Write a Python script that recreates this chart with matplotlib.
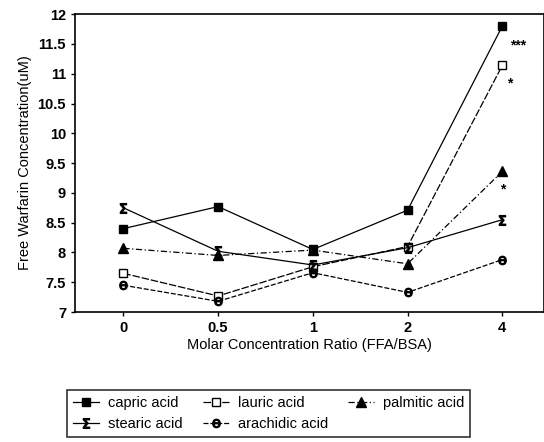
import matplotlib
matplotlib.use("Agg")
import matplotlib.pyplot as plt

plt.rcParams['font.family'] = ['Liberation Sans', 'DejaVu Sans']

categories = ["0", "0.5", "1", "2", "4"]
capric = [8.40, 8.77, 8.05, 8.71, 11.80]
lauric = [7.65, 7.27, 7.76, 8.10, 11.14]
palmitic = [8.07, 7.95, 8.04, 7.81, 9.36]
stearic = [8.75, 8.02, 7.79, 8.08, 8.55]
arachidic = [7.45, 7.18, 7.66, 7.33, 7.88]
sig_labels = ["***", "*", "*"]

fig = plt.figure(figsize=(5.44, 4.42), dpi=100)
ax = fig.add_axes([0.138, 0.294, 0.862, 0.674])
x = list(range(len(categories)))

h_cap, = ax.plot(x, capric, color='black', lw=0.9, ls='-', marker='s', ms=6, mfc='black', label='capric acid')
h_lau, = ax.plot(x, lauric, color='black', lw=0.9, ls=(0, (6, 1.5)), marker='s', ms=6, mfc='white', label='lauric acid')
h_pal, = ax.plot(x, palmitic, color='black', lw=0.9, ls=(0, (5, 2, 1, 2)), marker='^', ms=7, mfc='black', label='palmitic acid')
h_ste, = ax.plot(x, stearic, color='black', lw=0.9, ls='-', marker=r'$\Sigma$', ms=7, mfc='white', label='stearic acid')
h_ara, = ax.plot(x, arachidic, color='black', lw=0.9, ls=(0, (4, 1.5)), marker=r'$\Theta$', ms=6, mfc='white', label='arachidic acid')

# significance marks at ratio 4
ax.annotate(sig_labels[0], (x[4], capric[4]), xytext=(11, -14), textcoords='offset points',
            ha='center', va='center', fontsize=10, fontweight='bold')
ax.annotate(sig_labels[1], (x[4], lauric[4]), xytext=(5, -13), textcoords='offset points',
            ha='center', va='center', fontsize=10, fontweight='bold')
ax.annotate(sig_labels[2], (x[4], palmitic[4]), xytext=(0, -13), textcoords='offset points',
            ha='center', va='center', fontsize=10, fontweight='bold')

ax.set_xlim(-0.51, 4.44)
ax.set_ylim(7, 12)
ax.set_xticks(x)
ax.set_xticklabels(categories)
ax.set_yticks([7, 7.5, 8, 8.5, 9, 9.5, 10, 10.5, 11, 11.5, 12])
ax.set_yticklabels(["7", "7.5", "8", "8.5", "9", "9.5", "10", "10.5", "11", "11.5", "12"])
for s in ax.spines.values():
    s.set_linewidth(1.2)
ax.tick_params(direction='out', length=3, width=1, labelsize=10.5)
for lab in ax.get_xticklabels() + ax.get_yticklabels():
    lab.set_fontweight('bold')
ax.set_xlabel('Molar Concentration Ratio (FFA/BSA)', fontsize=10.5, labelpad=2)
ax.set_ylabel('Free Warfarin Concentration(uM)', fontsize=10.5, labelpad=4)

handles = [h_cap, h_ste, h_lau, h_ara, h_pal]
leg = fig.legend(handles=handles, labels=[h.get_label() for h in handles],
                 loc='lower left', bbox_to_anchor=(67/544, 1-437/442, (470-67)/544, (437-380)/442),
                 mode='expand', ncol=3, fontsize=10.5, frameon=True, fancybox=False,
                 edgecolor='black', handlelength=1.8, handletextpad=0.6, borderaxespad=0,
                 columnspacing=1.0, labelspacing=0.5)
leg.get_frame().set_linewidth(1.2)

fig.savefig('out.png', dpi=100)
